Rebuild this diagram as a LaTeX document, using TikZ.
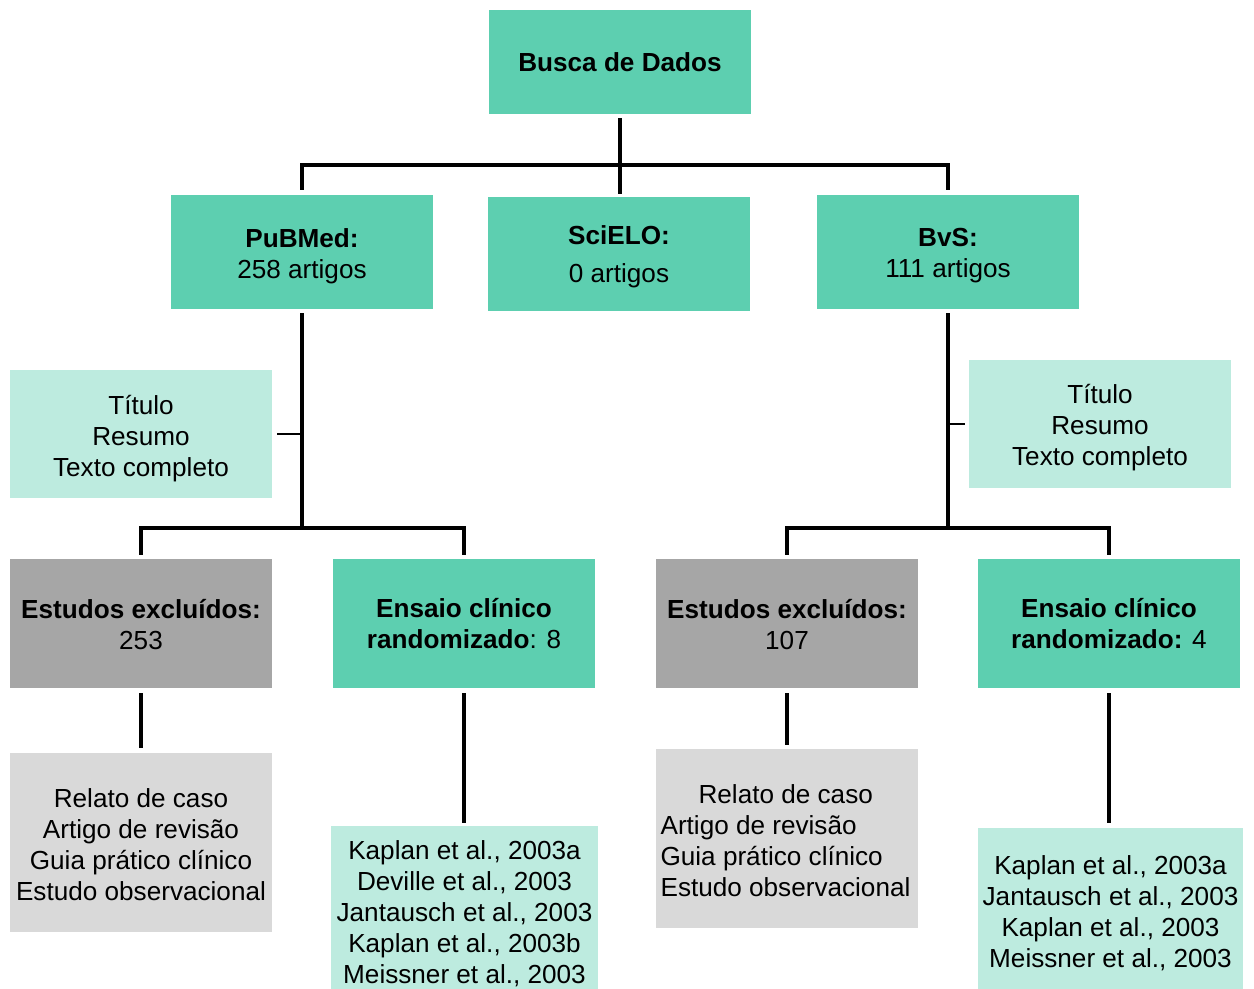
\documentclass[tikz,border=0pt]{standalone}
\usepackage{fontspec}
\setmainfont{Liberation Sans}
\definecolor{dgreen}{HTML}{5DCFB0}
\definecolor{lgreen}{HTML}{BDEBDF}
\definecolor{dgray}{HTML}{A6A6A6}
\definecolor{lgray}{HTML}{D9D9D9}
\tikzset{
  basebox/.style={rectangle, inner sep=0pt, draw=none},
  dbox/.style={basebox, fill=dgreen},
  lbox/.style={basebox, fill=lgreen},
  gbox/.style={basebox, fill=dgray},
  lgbox/.style={basebox, fill=lgray},
  txt/.style={inner sep=0pt, align=center, text=black,
    font=\fontsize{19.6pt}{23.25pt}\selectfont},
  sz/.style n args={2}{minimum width=#1*0.75pt, minimum height=#2*0.75pt},
  thickline/.style={line width=3pt, draw=black},
  thinline/.style={line width=0.8pt, draw=black}
}
\begin{document}
\begin{tikzpicture}[x=0.75pt,y=-0.75pt]
\useasboundingbox (0,0) rectangle (1254,989);

% top level
\node[dbox, sz={262}{104}] (busca) at (620,62) {};
\node[txt] (buscaT) at (busca.center) {\textbf{Busca de Dados}};
\node[dbox, sz={262}{114}] (pubmed) at (302,252) {};
\node[txt] (pubmedT) at ([yshift=-4*0.75pt]pubmed.center) {\textbf{PuBMed:}\\258 artigos};
\node[dbox, sz={262}{114}] (scielo) at (619,254) {};
\node[txt, font=\fontsize{19.6pt}{28.5pt}\selectfont] (scieloT) at ([yshift=-3*0.75pt]scielo.center) {\textbf{SciELO:}\\0 artigos};
\node[dbox, sz={262}{114}] (bvs) at (948,252) {};
\node[txt] (bvsT) at ([yshift=-4*0.75pt]bvs.center) {\textbf{BvS:}\\111 artigos};

\coordinate (j1) at (620,165);
\draw[thickline, shorten <=4*0.75pt, shorten >=3*0.75pt] (busca.south) -- (busca.south |- scielo.north);
\draw[thickline, shorten <=5*0.75pt, shorten >=5*0.75pt] (pubmed.north) |- (j1) -| (bvs.north);

% filter boxes
\node[lbox, sz={262}{128}] (tit1) at (141,434) {};
\node[txt] (tit1T) at ([yshift=-5*0.75pt]tit1.center) {Título\\Resumo\\Texto completo};
\node[lbox, sz={262}{128}] (tit2) at (1100,424) {};
\node[txt] (tit2T) at ([yshift=-4*0.75pt]tit2.center) {Título\\Resumo\\Texto completo};

% second level
\node[gbox, sz={262}{129}] (exc1) at (141,623.5) {};
\node[txt] (exc1T) at ([yshift=-1*0.75pt]exc1.center) {\textbf{Estudos excluídos:}\\253};
\node[dbox, sz={262}{129}] (ens1) at (464,623.5) {};
\node[txt] (ens1T) at (ens1.center) {\textbf{Ensaio clínico}\\\textbf{randomizado}: 8};
\node[gbox, sz={262}{129}] (exc2) at (787,623.5) {};
\node[txt] (exc2T) at ([yshift=-1*0.75pt]exc2.center) {\textbf{Estudos excluídos:}\\107};
\node[dbox, sz={262}{129}] (ens2) at (1109,623.5) {};
\node[txt] (ens2T) at (ens2.center) {\textbf{Ensaio clínico}\\\textbf{randomizado:} 4};

\coordinate (j2) at (302,528);
\coordinate (j3) at (948,528);
\draw[thickline, shorten <=4*0.75pt] (pubmed.south) -- (j2);
\draw[thickline, shorten <=4*0.75pt, shorten >=4*0.75pt] (exc1.north) |- (j2) -| (ens1.north);
\draw[thickline, shorten <=4*0.75pt] (bvs.south) -- (j3);
\draw[thickline, shorten <=4*0.75pt, shorten >=4*0.75pt] (exc2.north) |- (j3) -| (ens2.north);

\draw[thinline, shorten <=5*0.75pt] (tit1.east) -- (tit1.east -| pubmed.south);
\draw[thinline, shorten <=4*0.75pt] (tit2.west) -- (tit2.west -| bvs.south);

% third level
\node[lgbox, sz={262}{179}] (rel1) at (141,842.5) {};
\node[txt] (rel1T) at ([yshift=-2*0.75pt]rel1.center) {Relato de caso\\Artigo de revisão\\Guia prático clínico\\Estudo observacional};
\node[lbox, sz={267}{163}] (kap1) at (464.5,907.5) {};
\node[txt] (kap1T) at ([yshift=-6*0.75pt]kap1.center) {Kaplan et al., 2003a\\Deville et al., 2003\\Jantausch et al., 2003\\Kaplan et al., 2003b\\Meissner et al., 2003};
\node[lgbox, sz={262}{179}] (rel2) at (787,838.5) {};
\node[txt, align=left] (rel2T) at ([yshift=-2*0.75pt, xshift=-1.5*0.75pt]rel2.center) {\hspace*{28.5pt}Relato de caso\\Artigo de revisão\\Guia prático clínico\\Estudo observacional};
\node[lbox, sz={265}{161}] (kap2) at (1110.5,908.5) {};
\node[txt] (kap2T) at ([yshift=-5*0.75pt]kap2.center) {Kaplan et al., 2003a\\Jantausch et al., 2003\\Kaplan et al., 2003\\Meissner et al., 2003};

\draw[thickline, shorten <=5*0.75pt, shorten >=5*0.75pt] (exc1.south) -- (rel1.north);
\draw[thickline, shorten <=5*0.75pt, shorten >=3*0.75pt] (ens1.south) -- (ens1.south |- kap1.north);
\draw[thickline, shorten <=5*0.75pt, shorten >=4*0.75pt] (exc2.south) -- (rel2.north);
\draw[thickline, shorten <=5*0.75pt, shorten >=5*0.75pt] (ens2.south) -- (ens2.south |- kap2.north);
\end{tikzpicture}
\end{document}
